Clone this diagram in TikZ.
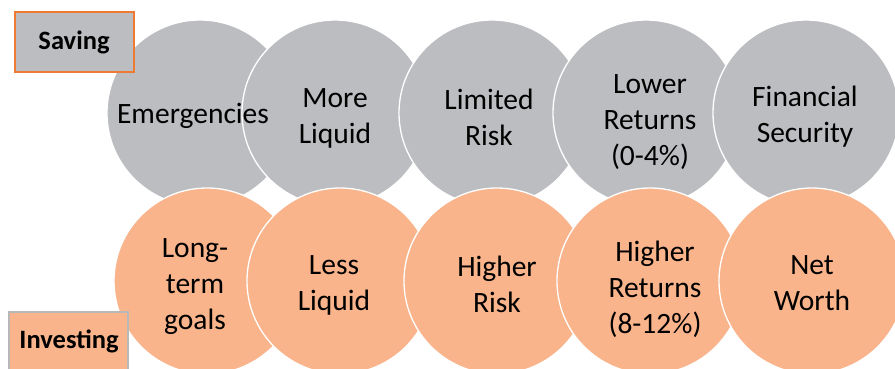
\documentclass[tikz,border=0pt]{standalone}
\usepackage{fontspec}
\setmainfont{Carlito}
\definecolor{cgrey}{HTML}{BCBDC0}
\definecolor{corange}{HTML}{F9B48B}
\definecolor{cborder}{HTML}{EE7A33}
\definecolor{cgreyline}{HTML}{B8B8B8}
\tikzset{
  bub/.style={circle, draw=white, line width=1.3pt, minimum size=186pt, inner sep=0pt},
  savebub/.style={bub, fill=cgrey},
  invbub/.style={bub, fill=corange},
  lbl/.style={align=center, font=\fontsize{29.5}{36}\selectfont, text=black, inner sep=0pt},
  tag/.style={font=\fontsize{26.5}{30}\bfseries\selectfont, text=black, inner sep=0pt}
}
\begin{document}
\begin{tikzpicture}[x=1pt,y=-1pt]
\useasboundingbox (0,0) rectangle (895,368);
\clip (0,0) rectangle (895,368);
% top row
\node[savebub] (s1) at (200,113) {};
\node[savebub] (s2) at (335,113) {};
\node[savebub] (s3) at (492,113) {};
\node[savebub] (s4) at (646,113) {};
\node[savebub] (s5) at (806,113) {};
% bottom row
\node[invbub] (i1) at (207,281) {};
\node[invbub] (i2) at (340,281) {};
\node[invbub] (i3) at (497,281) {};
\node[invbub] (i4) at (650,281) {};
\node[invbub] (i5) at (812,281) {};
% labels
\node[lbl] (t1) at (193,116) {Emergencies};
\node[lbl] (t2) at (335,118) {More\\Liquid};
\node[lbl] (t3) at (489,117) {Limited\\Risk};
\node[lbl] (t4) at (650,122) {Lower\\Returns\\(0-4\%)};
\node[lbl] (t5) at (805,117) {Financial\\Security};
\node[lbl] (b1) at (195,287) {Long-\\term\\goals};
\node[lbl] (b2) at (334,285) {Less\\Liquid};
\node[lbl] (b3) at (497,284) {Higher\\Risk};
\node[lbl] (b4) at (655,289) {Higher\\Returns\\(8-12\%)};
\node[lbl] (b5) at (812,283) {Net\\Worth};
% tags
\node[draw=cborder, line width=2pt, fill=cgrey, minimum width=119pt, minimum height=60pt, inner sep=0pt] (sav) at (74.5,41.5) {};
\node[tag] (savt) at (74,42) {Saving};
\node[draw=cgreyline, line width=2pt, fill=corange, minimum width=119pt, minimum height=60pt, inner sep=0pt] (inv) at (68.5,342) {};
\node[tag] (invt) at (69,341) {Investing};
\end{tikzpicture}
\end{document}
